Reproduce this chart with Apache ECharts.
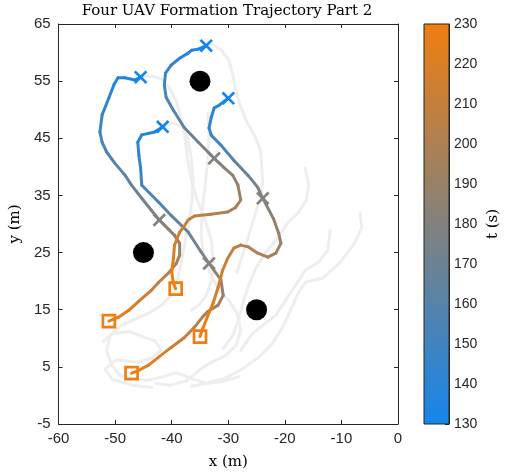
<!DOCTYPE html>
<html>
<head>
<meta charset="utf-8">
<script src="https://cdn.jsdelivr.net/npm/echarts@6/dist/echarts.min.js"></script>
<style>
  html, body { margin: 0; padding: 0; background: #fff; }
  #chart { width: 508px; height: 476px; }
</style>
</head>
<body>
<div id="chart"></div>
<script>
// Axis ticks
const xTicks = [-60, -50, -40, -30, -20, -10, 0];
const yTicks = [-5, 5, 15, 25, 35, 45, 55, 65];
const tTicks = [130, 140, 150, 160, 170, 180, 190, 200, 210, 220, 230];

// Time colour scale end points (t = 130 s -> blue, t = 230 s -> orange)
const tColors = ['#1485ec', '#f07e10'];

// UAV trajectories for this segment: [x (m), y (m), t (s)]
const uav1 = [
  [-45.5, 55.7, 130], [-46.5, 55.2, 132], [-48.3, 55.6, 134], [-49.5, 55.6, 136],
  [-50.2, 54.4, 138], [-51.1, 52.1, 142], [-52.3, 49.1, 147], [-52.7, 46.1, 151],
  [-52.3, 44.3, 154], [-51.5, 42.6, 157], [-50.1, 40.7, 161], [-48.3, 38.6, 165],
  [-47.1, 36.8, 168], [-45.3, 34.5, 172], [-43.6, 32.4, 177], [-42.2, 30.7, 180],
  [-40.6, 29.1, 184], [-39.5, 28.0, 187], [-38.6, 26.6, 191], [-38.6, 24.5, 195],
  [-39.2, 23.1, 198], [-40.6, 21.4, 203], [-42.3, 19.8, 207], [-43.6, 18.4, 211],
  [-45.7, 16.6, 217], [-47.6, 14.9, 222], [-49.4, 13.7, 226], [-51.1, 13.0, 230]
];
const uav2 = [
  [-41.6, 47.0, 130], [-43.0, 46.1, 133], [-45.3, 45.6, 136], [-46.0, 44.3, 139],
  [-45.8, 42.0, 142], [-45.5, 39.8, 146], [-45.3, 36.8, 151], [-44.8, 36.3, 153],
  [-42.3, 33.8, 157], [-40.1, 31.5, 163], [-37.1, 28.6, 169], [-34.8, 25.1, 176],
  [-33.4, 23.1, 180], [-31.3, 20.2, 187], [-30.9, 17.5, 191], [-31.8, 15.8, 195],
  [-33.6, 14.7, 199], [-34.5, 13.8, 201], [-36.0, 11.9, 205], [-37.8, 10.1, 210],
  [-40.1, 8.4, 215], [-42.3, 6.7, 220], [-44.1, 5.3, 224], [-45.8, 4.4, 228],
  [-47.1, 3.9, 230]
];
const uav3 = [
  [-33.9, 61.2, 130], [-35.3, 60.6, 133], [-36.5, 60.4, 135], [-37.1, 59.9, 137],
  [-38.6, 59.0, 140], [-40.1, 57.8, 143], [-41.1, 56.4, 147], [-41.3, 54.3, 151],
  [-41.0, 52.2, 155], [-39.7, 49.9, 159], [-37.8, 46.9, 166], [-35.3, 44.3, 173],
  [-32.5, 41.5, 180], [-30.8, 39.9, 184], [-29.2, 38.5, 187], [-28.3, 36.8, 190],
  [-27.8, 34.2, 194], [-28.7, 32.9, 197], [-30.1, 32.1, 199], [-33.1, 31.7, 204],
  [-36.0, 31.4, 208], [-37.1, 30.7, 210], [-38.0, 29.3, 213], [-38.6, 28.6, 214],
  [-39.5, 26.3, 218], [-39.7, 24.0, 222], [-40.0, 21.6, 226], [-39.7, 19.6, 229],
  [-39.3, 18.7, 230]
];
const uav4 = [
  [-30.0, 52.0, 130], [-31.6, 50.8, 134], [-32.5, 50.3, 137], [-33.0, 48.7, 140],
  [-33.4, 46.8, 145], [-33.0, 45.5, 148], [-31.3, 43.8, 153], [-29.0, 41.1, 161],
  [-26.5, 38.5, 169], [-24.8, 36.4, 175], [-23.9, 34.5, 180], [-22.0, 30.9, 186],
  [-21.1, 28.4, 190], [-20.7, 26.6, 192], [-21.6, 24.9, 195], [-23.0, 24.2, 197],
  [-24.8, 24.9, 200], [-26.5, 26.0, 203], [-27.8, 26.3, 205], [-29.0, 25.8, 207],
  [-30.1, 24.0, 209], [-31.0, 21.9, 213], [-31.8, 18.9, 217], [-32.7, 16.1, 221],
  [-33.6, 14.0, 224], [-34.5, 11.7, 228], [-35.0, 10.3, 230]
];
const uavs = [uav1, uav2, uav3, uav4];
const midTime = 180;

// Obstacle centres [x, y]
const obstacles = [[-35, 55], [-45, 25], [-25, 15]];

// Other flight segments, drawn faintly behind: [x, y]
const trail1 = [
  [-33.6, 61.9], [-31.3, 60.5], [-29.9, 58.7], [-29.2, 56.1], [-28.6, 52.9],
  [-27.8, 50.5], [-26.7, 47.8], [-25.3, 45.4], [-24.3, 42.9], [-24.1, 40.0],
  [-23.9, 37.3], [-24.4, 34.5], [-25.3, 31.5], [-26.4, 28.0], [-27.5, 24.5], [-28.5, 21.5]
];
const trail2 = [
  [-45.5, 55.7], [-43.6, 55.9], [-41.8, 55.4], [-40.4, 53.8], [-39.3, 51.7],
  [-38.3, 48.5], [-37.6, 44.7], [-37.2, 41.2], [-36.5, 37.7], [-35.5, 34.2],
  [-34.1, 30.7], [-33.0, 27.2], [-32.7, 23.3], [-33.0, 20.1], [-33.9, 17.5],
  [-35.2, 15.8], [-36.5, 14.9]
];
const trail3 = [
  [-41.4, 47.0], [-39.7, 47.7], [-37.9, 47.0], [-37.1, 44.7], [-36.5, 41.2],
  [-36.2, 37.7], [-36.4, 34.2], [-36.9, 30.7], [-37.6, 27.2], [-38.3, 23.3],
  [-39.0, 20.1], [-40.1, 17.5], [-41.8, 15.8], [-43.9, 14.5], [-46.2, 13.5],
  [-48.8, 12.3], [-50.9, 10.5], [-51.5, 7.9], [-50.6, 5.3], [-49.2, 3.5],
  [-47.1, 3.0], [-44.4, 2.6], [-41.8, 3.2], [-39.2, 4.0], [-36.5, 3.0],
  [-33.9, 2.1], [-30.9, 2.5], [-28.1, 3.3]
];
const trail4 = [
  [-33.6, 49.4], [-33.4, 45.6], [-33.6, 41.2], [-34.1, 36.8], [-34.6, 32.4],
  [-34.8, 28.0], [-34.3, 24.0], [-33.0, 21.0], [-31.6, 18.4], [-29.9, 16.6],
  [-28.5, 14.5], [-27.8, 11.4], [-28.6, 8.8], [-30.4, 7.0], [-33.0, 5.8],
  [-35.2, 4.4], [-37.4, 2.6], [-40.1, 1.8], [-42.8, 2.1]
];
const trail5 = [
  [-16.4, 39.8], [-15.8, 36.8], [-16.2, 34.2], [-17.6, 32.0], [-19.4, 30.3],
  [-21.3, 27.5], [-23.4, 25.0], [-25.1, 22.3], [-26.4, 19.3], [-27.3, 16.6],
  [-28.1, 13.5], [-29.2, 10.5], [-30.9, 8.2]
];
const trail6 = [
  [-6.7, 31.9], [-6.4, 29.4], [-7.6, 26.8], [-10.2, 23.3], [-13.4, 20.5],
  [-16.4, 19.8], [-17.6, 18.0], [-19.0, 14.9], [-20.4, 11.9], [-22.2, 9.1],
  [-24.6, 6.7], [-27.4, 4.7], [-30.4, 3.1], [-33.9, 2.1], [-36.5, 1.6]
];
const trail7 = [
  [-12.0, 28.9], [-12.4, 25.4], [-14.1, 23.3], [-16.4, 21.9], [-18.1, 19.3],
  [-19.9, 16.6], [-21.6, 14.0], [-23.9, 12.3], [-26.0, 10.5], [-27.8, 7.9]
];
const trail8 = [
  [-52.0, 9.5], [-50.5, 10.8], [-47.5, 11.2], [-45.0, 10.2], [-43.0, 9.6],
  [-41.8, 8.0], [-43.4, 6.6], [-46.0, 5.8], [-49.8, 6.2], [-51.8, 4.6],
  [-50.5, 2.8], [-47.0, 1.8], [-43.5, 1.4]
];
const trails = [trail1, trail2, trail3, trail4, trail5, trail6, trail7, trail8];

// ---- helpers -------------------------------------------------------------
const tMin = tTicks[0], tMax = tTicks[tTicks.length - 1];
function tColor(t) {
  return echarts.color.lerp((t - tMin) / (tMax - tMin), tColors);
}

// consecutive point pairs of every UAV: [x1, y1, x2, y2, t1, t2]
const segments = [];
uavs.forEach(function (path) {
  for (let i = 0; i + 1 < path.length; i++) {
    segments.push([path[i][0], path[i][1], path[i + 1][0], path[i + 1][1], path[i][2], path[i + 1][2]]);
  }
});
const starts = uavs.map(function (p) { return [p[0][0], p[0][1], p[0][2]]; });
const mids = uavs.map(function (p) {
  const q = p.find(function (r) { return r[2] === midTime; });
  return [q[0], q[1], q[2]];
});
const ends = uavs.map(function (p) { const q = p[p.length - 1]; return [q[0], q[1], q[2]]; });

const AXIS_COLOR = '#262626';
const SANS = '"Liberation Sans", Arial, sans-serif';
const SERIF = '"DejaVu Serif", serif';

function crossItem(params, api) {
  const c = api.coord([api.value(0), api.value(1)]);
  const s = 5.8;
  const col = tColor(api.value(2));
  const st = { stroke: col, lineWidth: 2.7, lineCap: 'butt' };
  return {
    type: 'group',
    children: [
      { type: 'line', shape: { x1: c[0] - s, y1: c[1] - s, x2: c[0] + s, y2: c[1] + s }, style: st },
      { type: 'line', shape: { x1: c[0] - s, y1: c[1] + s, x2: c[0] + s, y2: c[1] - s }, style: st }
    ]
  };
}

const chart = echarts.init(document.getElementById('chart'), null, { renderer: 'canvas' });

const plotX = { min: xTicks[0], max: xTicks[xTicks.length - 1], interval: xTicks[1] - xTicks[0] };
const plotY = { min: yTicks[0], max: yTicks[yTicks.length - 1], interval: yTicks[1] - yTicks[0] };

const option = {
  animation: false,
  backgroundColor: '#ffffff',
  graphic: [{
    type: 'text', x: 227, y: 11, silent: true,
    style: {
      text: 'Four UAV Formation Trajectory Part 2',
      align: 'center', verticalAlign: 'middle',
      font: '15px ' + SERIF, fill: '#000'
    }
  }],
  grid: [
    { left: 56, top: 24, width: 342, height: 400 },
    { left: 424, top: 24, width: 25, height: 400 }
  ],
  xAxis: [
    {
      gridIndex: 0, type: 'value', position: 'bottom',
      min: plotX.min, max: plotX.max, interval: plotX.interval,
      name: 'x (m)', nameLocation: 'middle', nameGap: 31,
      nameTextStyle: { fontFamily: SERIF, fontSize: 15, color: '#000' },
      axisLine: { show: true, onZero: false, lineStyle: { color: AXIS_COLOR, width: 1 } },
      axisTick: { show: true, inside: true, length: 4, lineStyle: { color: AXIS_COLOR } },
      axisLabel: { margin: 7, fontFamily: SANS, fontSize: 15, color: AXIS_COLOR },
      splitLine: { show: false }
    },
    {
      gridIndex: 0, type: 'value', position: 'top',
      min: plotX.min, max: plotX.max, interval: plotX.interval,
      axisLine: { show: true, onZero: false, lineStyle: { color: AXIS_COLOR, width: 1 } },
      axisTick: { show: true, inside: true, length: 4, lineStyle: { color: AXIS_COLOR } },
      axisLabel: { show: false }, splitLine: { show: false }
    },
    { gridIndex: 1, type: 'value', min: 0, max: 1, show: false }
  ],
  yAxis: [
    {
      gridIndex: 0, type: 'value', position: 'left',
      min: plotY.min, max: plotY.max, interval: plotY.interval,
      name: 'y (m)', nameLocation: 'middle', nameGap: 34, nameRotate: 90,
      nameTextStyle: { fontFamily: SERIF, fontSize: 15, color: '#000' },
      axisLine: { show: true, onZero: false, lineStyle: { color: AXIS_COLOR, width: 1 } },
      axisTick: { show: true, inside: true, length: 4, lineStyle: { color: AXIS_COLOR } },
      axisLabel: { margin: 8, fontFamily: SANS, fontSize: 15, color: AXIS_COLOR },
      splitLine: { show: false }
    },
    {
      gridIndex: 0, type: 'value', position: 'right',
      min: plotY.min, max: plotY.max, interval: plotY.interval,
      axisLine: { show: true, onZero: false, lineStyle: { color: AXIS_COLOR, width: 1 } },
      axisTick: { show: true, inside: true, length: 4, lineStyle: { color: AXIS_COLOR } },
      axisLabel: { show: false }, splitLine: { show: false }
    },
    {
      gridIndex: 1, type: 'value', position: 'right',
      min: tMin, max: tMax, interval: tTicks[1] - tTicks[0],
      name: 't (s)', nameLocation: 'middle', nameGap: 37, nameRotate: 90,
      nameTextStyle: { fontFamily: SERIF, fontSize: 15, color: '#000' },
      axisLine: { show: true, onZero: false, lineStyle: { color: AXIS_COLOR, width: 1 } },
      axisTick: { show: true, inside: true, length: 4, lineStyle: { color: AXIS_COLOR } },
      axisLabel: { margin: 5, fontFamily: SANS, fontSize: 14, color: AXIS_COLOR },
      splitLine: { show: false }
    }
  ],
  series: []
};

// faint background trails
trails.forEach(function (tr) {
  option.series.push({
    type: 'line', xAxisIndex: 0, yAxisIndex: 0, data: tr,
    showSymbol: false, silent: true, z: 1,
    lineStyle: { color: '#eeeeee', width: 3, cap: 'round', join: 'round' }
  });
});

// time-coloured UAV paths
option.series.push({
  type: 'custom', xAxisIndex: 0, yAxisIndex: 0, z: 3, silent: true,
  data: segments,
  encode: { x: [0, 2], y: [1, 3] },
  renderItem: function (params, api) {
    const p1 = api.coord([api.value(0), api.value(1)]);
    const p2 = api.coord([api.value(2), api.value(3)]);
    const grad = new echarts.graphic.LinearGradient(p1[0], p1[1], p2[0], p2[1], [
      { offset: 0, color: tColor(api.value(4)) },
      { offset: 1, color: tColor(api.value(5)) }
    ], true);
    return {
      type: 'line',
      shape: { x1: p1[0], y1: p1[1], x2: p2[0], y2: p2[1] },
      style: { stroke: grad, lineWidth: 3, lineCap: 'round' }
    };
  }
});

// start and mid-time markers
option.series.push({
  type: 'custom', xAxisIndex: 0, yAxisIndex: 0, z: 4, silent: true,
  data: mids, encode: { x: 0, y: 1 }, renderItem: crossItem
});
option.series.push({
  type: 'custom', xAxisIndex: 0, yAxisIndex: 0, z: 4, silent: true,
  data: starts, encode: { x: 0, y: 1 }, renderItem: crossItem
});

// end markers
option.series.push({
  type: 'scatter', xAxisIndex: 0, yAxisIndex: 0, z: 5, silent: true,
  data: ends, symbol: 'rect', symbolSize: 12,
  itemStyle: { color: 'rgba(255,255,255,0)', borderColor: tColors[1], borderWidth: 2.7, opacity: 1 }
});

// obstacles
option.series.push({
  type: 'scatter', xAxisIndex: 0, yAxisIndex: 0, z: 5, silent: true,
  data: obstacles, symbol: 'circle', symbolSize: 21,
  itemStyle: { color: '#000000', opacity: 1 }
});

// colour bar
option.series.push({
  type: 'custom', xAxisIndex: 2, yAxisIndex: 2, z: 1, silent: true,
  data: [[0, tMin, 1, tMax]],
  encode: { x: [0, 2], y: [1, 3] },
  renderItem: function (params, api) {
    const a = api.coord([api.value(0), api.value(3)]);
    const b = api.coord([api.value(2), api.value(1)]);
    return {
      type: 'rect',
      shape: { x: a[0], y: a[1], width: b[0] - a[0], height: b[1] - a[1] },
      style: {
        fill: new echarts.graphic.LinearGradient(0, 1, 0, 0, [
          { offset: 0, color: tColors[0] },
          { offset: 1, color: tColors[1] }
        ]),
        stroke: AXIS_COLOR, lineWidth: 1
      }
    };
  }
});

chart.setOption(option);
</script>
</body>
</html>
